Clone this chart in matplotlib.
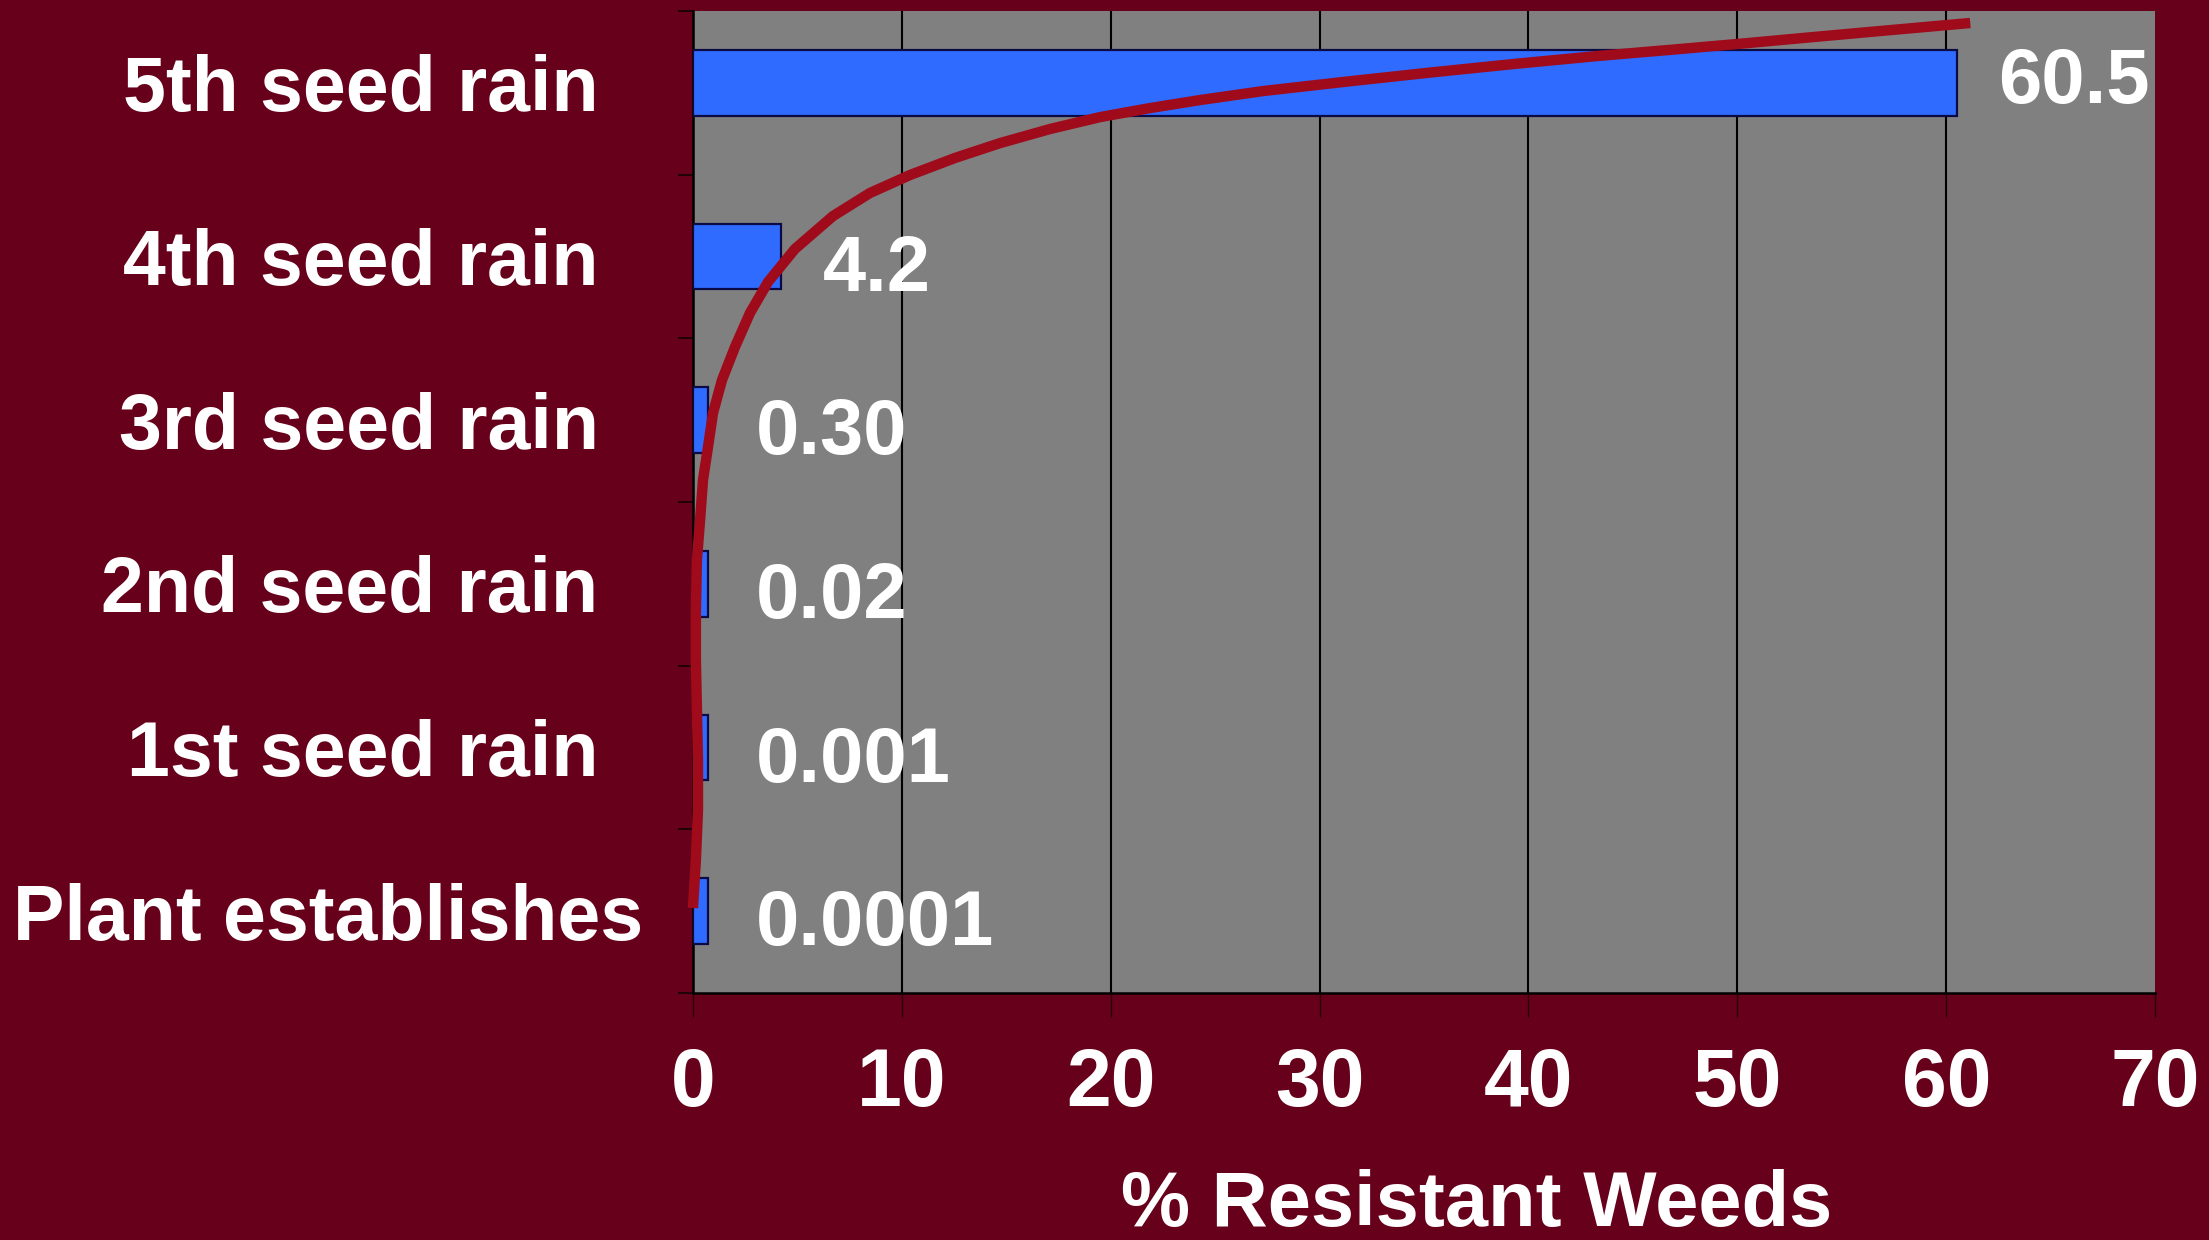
import numpy as np
import matplotlib
matplotlib.use("Agg")
import matplotlib.pyplot as plt
from matplotlib.transforms import ScaledTranslation

# ---- data ----
categories = ["Plant establishes", "1st seed rain", "2nd seed rain",
              "3rd seed rain", "4th seed rain", "5th seed rain"]
values = [0.0001, 0.001, 0.02, 0.30, 4.2, 60.5]
value_labels = ["0.0001", "0.001", "0.02", "0.30", "4.2", "60.5"]
x_ticks = [0, 10, 20, 30, 40, 50, 60, 70]

# hand-drawn trend curve
# (x in % resistant, y in category units: 0 = Plant establishes ... 5 = 5th seed rain)
curve_x = [0.0, 0.14, 0.24, 0.24, 0.19, 0.14, 0.14, 0.19, 0.34, 0.48, 0.72,
           0.96, 1.39, 2.01, 2.73, 3.59, 4.88, 6.70, 8.47, 10.39, 12.54,
           14.70, 17.09, 19.49, 21.88, 24.27, 27.29, 31.31, 35.29, 39.26,
           43.28, 47.26, 50.47, 53.63, 56.84, 61.15]
curve_y = [0.019, 0.313, 0.618, 0.924, 1.229, 1.535, 1.840, 2.146, 2.390,
           2.634, 2.836, 3.044, 3.245, 3.447, 3.655, 3.844, 4.046, 4.247,
           4.388, 4.498, 4.602, 4.693, 4.779, 4.852, 4.907, 4.956, 5.011,
           5.069, 5.124, 5.176, 5.225, 5.268, 5.304, 5.341, 5.378, 5.427]

# ---- style ----
BG = "#67001b"
PLOT_BG = "#808080"
BAR = "#2f6bff"
BAR_EDGE = "#0a0a45"
CURVE = "#a00b1c"
FONT = "Liberation Sans"
MIN_VISIBLE = 0.7   # tiny bars are drawn with a minimum visible width, as in the original
TOP_ROW_LIFT = 0.10  # inches: the top row sits slightly higher in the original

plt.rcParams["font.family"] = [FONT, "DejaVu Sans"]
plt.rcParams["font.weight"] = "bold"

fig = plt.figure(figsize=(22.09, 12.40), dpi=100, facecolor=BG)
ax = fig.add_axes([0.3137, 0.1992, 0.6619, 0.7919])
ax.set_facecolor(PLOT_BG)
lift = ScaledTranslation(0, TOP_ROW_LIFT, fig.dpi_scale_trans)

y = np.arange(len(categories))
widths = np.maximum(np.array(values), MIN_VISIBLE)
bars = ax.barh(y, widths, height=0.4, color=BAR, edgecolor=BAR_EDGE,
               linewidth=1.6, zorder=3)
bars[-1].set_transform(ax.transData + lift)

ax.plot(curve_x, curve_y, color=CURVE, linewidth=7.5, solid_capstyle="butt",
        solid_joinstyle="round", zorder=4, clip_on=False)

label_offsets = [(0, -4)] * (len(values) - 1) + [(0, 13)]
for yi, v, lab, off in zip(y, values, value_labels, label_offsets):
    ax.annotate(lab, xy=(max(v, 1.0) + 2.0, yi), xytext=off,
                textcoords="offset points", color="white", fontsize=56,
                fontweight="bold", va="center_baseline", ha="left", zorder=5)

ax.set_xlim(0, 70)
ax.set_ylim(-0.5, 5.5)

ax.set_xticks(x_ticks)
ax.set_xticklabels([str(t) for t in x_ticks])
ax.tick_params(axis="x", length=17, width=1.0, color="#2a0008", pad=22,
               labelsize=58, labelcolor="white")

ax.set_yticks(y)
ax.set_yticklabels(categories)
ax.tick_params(axis="y", which="major", length=0, pad=68, labelsize=55.5,
               labelcolor="white")
ax.set_yticks(np.arange(-0.5, 6.0, 1.0), minor=True)
ax.tick_params(axis="y", which="minor", length=11, width=1.3, color="#1a0005")

ylabels = ax.get_yticklabels()
# "Plant establishes" sits further right in the original
ylabels[0].set_transform(ylabels[0].get_transform()
                         + ScaledTranslation(0.45, 0, fig.dpi_scale_trans))
ylabels[-1].set_transform(ylabels[-1].get_transform() + lift)

ax.xaxis.grid(True, color="black", linewidth=1.5, zorder=1)
ax.set_axisbelow(True)
ax.xaxis.get_gridlines()[-1].set_visible(False)

for s in ["top", "right"]:
    ax.spines[s].set_visible(False)
for s in ["left", "bottom"]:
    ax.spines[s].set_color("black")
    ax.spines[s].set_linewidth(1.8)

ax.set_xlabel("% Resistant Weeds", color="white", fontsize=56, fontweight="bold")
ax.xaxis.set_label_coords(0.536, -0.216)
ax.xaxis.label.set_va("center")

fig.savefig("out.png", dpi=100, facecolor=BG)
